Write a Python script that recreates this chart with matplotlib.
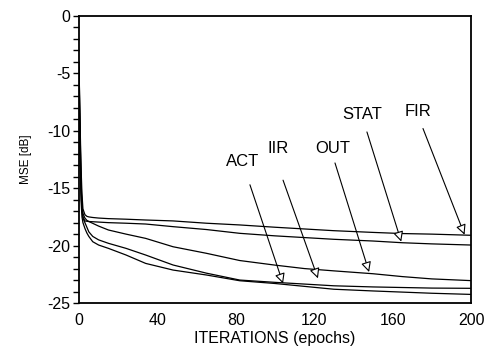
import matplotlib
matplotlib.use("Agg")
import matplotlib.pyplot as plt
from matplotlib.ticker import MultipleLocator

plt.rcParams['font.family'] = ['Liberation Sans', 'DejaVu Sans']
plt.rcParams['axes.unicode_minus'] = False

# iterations (epochs)
iters = [0, 0.5, 1, 1.5, 2, 3, 4, 5, 7, 10, 15, 24, 34, 48, 65, 82,
         100, 115, 130, 150, 165, 180, 200]

# MSE [dB] per structure
mse_fir = [-4.5, -9, -13, -15.5, -16.8, -17.3, -17.45, -17.5, -17.55, -17.6, -17.65, -17.7,
           -17.77, -17.85, -18.05, -18.2, -18.4, -18.55, -18.7, -18.85, -18.95, -19.0, -19.1]
mse_stat = [-4, -9.5, -14, -16.5, -17.5, -17.85, -17.88, -17.9, -17.92, -17.95, -18.0, -18.05,
            -18.12, -18.35, -18.6, -18.93, -19.15, -19.3, -19.45, -19.6, -19.75, -19.85, -19.95]
mse_out = [-5, -10, -14.5, -16.5, -17.2, -17.6, -17.8, -17.9, -18.06, -18.3, -18.64, -19.0,
           -19.37, -20.1, -20.67, -21.3, -21.7, -22.0, -22.2, -22.45, -22.7, -22.9, -23.05]
mse_iir = [-6, -11, -15, -17, -17.6, -18.0, -18.4, -18.8, -19.2, -19.5, -19.8, -20.24,
           -20.82, -21.69, -22.4, -23.0, -23.2, -23.35, -23.5, -23.6, -23.65, -23.7, -23.72]
mse_act = [-6.5, -12, -16, -17.5, -18.0, -18.5, -18.9, -19.2, -19.66, -19.95, -20.24, -20.82,
           -21.55, -22.13, -22.56, -23.06, -23.3, -23.55, -23.8, -23.95, -24.05, -24.15, -24.25]

labels = ['ACT', 'IIR', 'OUT', 'STAT', 'FIR']
label_pos = [(83.7, -12.7), (101.5, -11.5), (129.6, -11.5), (144.4, -8.6), (173.0, -8.3)]
arrow_tail = [(87.2, -14.7), (104.1, -14.3), (130.6, -12.8), (146.9, -10.1), (175.5, -9.8)]
arrow_tip = [(104.1, -23.3), (121.9, -22.85), (148.0, -22.3), (164.4, -19.65), (196.7, -19.05)]

fig = plt.figure(figsize=(4.89, 3.58), dpi=100)
ax = fig.add_axes([0.1616, 0.1536, 0.8016, 0.8017])

for ys in [mse_fir, mse_stat, mse_out, mse_iir, mse_act]:
    ax.plot(iters, ys, color='black', linewidth=0.9)

for lab, lp, tail, tip in zip(labels, label_pos, arrow_tail, arrow_tip):
    ax.text(lp[0], lp[1], lab, ha='center', va='center', fontsize=12)
    ax.annotate('', xy=tip, xytext=tail,
                arrowprops=dict(arrowstyle='-|>,head_length=0.6,head_width=0.3',
                                fc='white', ec='black', lw=0.8, shrinkA=0, shrinkB=0))

ax.set_xlim(0, 200)
ax.set_ylim(-25, 0)
ax.set_xticks([0, 40, 80, 120, 160, 200])
ax.yaxis.set_major_locator(MultipleLocator(5))
ax.yaxis.set_minor_locator(MultipleLocator(1))
ax.tick_params(axis='x', length=0, pad=7, labelsize=11.5)
ax.tick_params(axis='y', which='major', length=4, width=1, direction='out', labelsize=11.5, pad=2)
ax.tick_params(axis='y', which='minor', length=4, width=1, direction='out')
for s in ax.spines.values():
    s.set_linewidth(1.3)

ax.set_xlabel('ITERATIONS (epochs)', fontsize=11.5, labelpad=2)
ax.set_ylabel('MSE [dB]', fontsize=8.5, labelpad=11)

fig.savefig('out.png', dpi=100)
